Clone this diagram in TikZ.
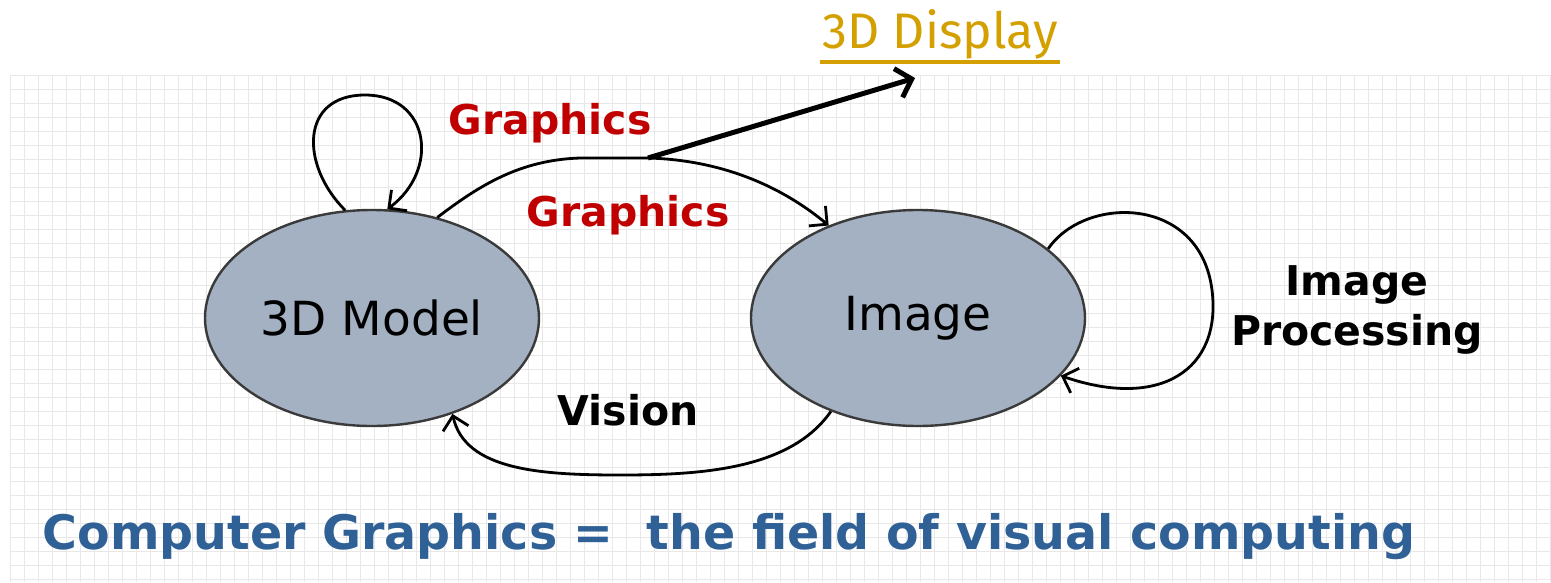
\documentclass[tikz,border=0pt]{standalone}
\usepackage{fontspec}
\setmainfont{DejaVu Sans}
\newfontfamily\dispfont{Fira Sans}
\usetikzlibrary{arrows.meta,shapes.geometric}
\definecolor{ellfill}{HTML}{A3B1C2}
\definecolor{ellline}{HTML}{3A3A3A}
\definecolor{gred}{HTML}{C00000}
\definecolor{cgblue}{HTML}{2F6096}
\definecolor{gold}{HTML}{D4A000}
\definecolor{gridc}{HTML}{E8E8E8}
\tikzset{
  state/.style={ellipse, draw=ellline, line width=2.4pt, fill=ellfill, minimum width=334pt, minimum height=216pt, inner sep=0pt},
  conn/.style={line width=2.8pt, -{Straight Barb[length=13pt,width=26pt,line width=2.8pt]}},
  redlab/.style={text=gred, font=\bfseries\fontsize{41}{48}\selectfont},
  blklab/.style={text=black, font=\bfseries\fontsize{41}{50}\selectfont, align=center},
}
\begin{document}
\begin{tikzpicture}[x=1pt,y=-1pt]
\useasboundingbox (0,0) rectangle (1551,582);
\fill[white] (0,0) rectangle (1551,582);
% faint grid
\foreach \gx in {10,24,...,1551} \draw[gridc, line width=0.8pt] (\gx,75) -- (\gx,582);
\foreach \gy in {75,89,...,582} \draw[gridc, line width=0.8pt] (10,\gy) -- (1551,\gy);

\node[state] (m) at (372,318) {\fontsize{47}{56}\selectfont 3D Model};
\node[state] (i) at (918,318) {\fontsize{47}{56}\selectfont Image};

\node[redlab] (g1) at (550,123) {Graphics};
\node[redlab] (g2) at (628,215) {Graphics};
\node[blklab] (v) at (628,410) {Vision};
\node[blklab] (ip) at (1357,310) {Image\\Processing};
\node[text=cgblue, font=\bfseries\fontsize{47.5}{56}\selectfont] (cg) at (729,537) {Computer Graphics =\ \ the field of visual computing};
\node[text=gold, font=\dispfont\fontsize{50}{58}\selectfont, inner sep=2pt] (disp) at (940,34) {3D Display};
\draw[gold, line width=4pt] ([yshift=-1pt]disp.south west) -- ([yshift=-1pt]disp.south east);

% self loop on 3D Model
\draw[conn] (m.104) .. controls (300,165) and (300,95) .. (365,95)
  .. controls (430,95) and (440,170) .. (m.82);
% Graphics arc
\coordinate (br) at (648,158);
\coordinate (dispend) at (915,78);
\draw[conn] (m.57) .. controls (480,185) and (520,160) .. (580,158) -- (br)
  .. controls (720,160) and (780,185) .. (i.134);
\draw[line width=5pt, -{Straight Barb[length=14pt,width=30pt,line width=5pt]}] (br) -- (dispend);
% Image loop
\draw[conn] (i.28) .. controls (1085,195) and (1200,195) .. (1212,290)
  .. controls (1222,370) and (1160,410) .. (i.-22);
% Vision
\draw[conn] (i.-133) .. controls (790,470) and (700,475) .. (620,475)
  .. controls (540,475) and (465,470) .. (m.-50);
\end{tikzpicture}
\end{document}
